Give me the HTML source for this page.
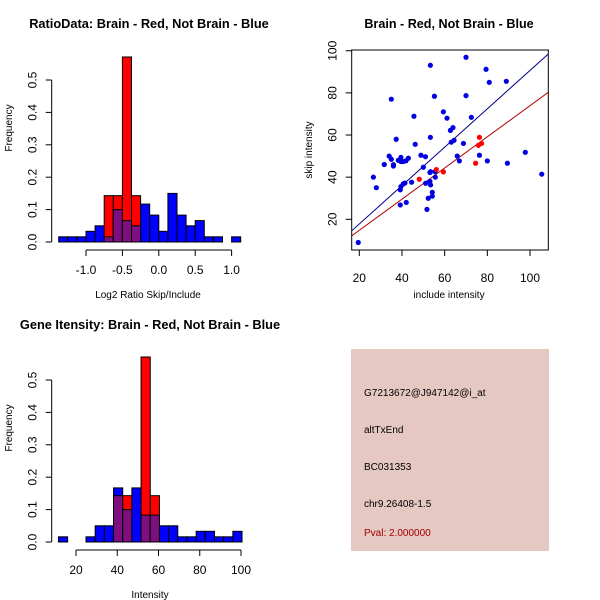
<!DOCTYPE html>
<html><head><meta charset="utf-8"><style>
body{margin:0;background:#fff;}
svg{display:block;font-family:"Liberation Sans",sans-serif;}
</style></head><body>
<svg id="c" width="600" height="600" xmlns="http://www.w3.org/2000/svg">
<rect x="0" y="0" width="600" height="600" fill="#fff"/>
<text x="149" y="28" text-anchor="middle" font-size="12.8" font-weight="bold">RatioData: Brain - Red, Not Brain - Blue</text>
<text x="449" y="28" text-anchor="middle" font-size="12.6" font-weight="bold">Brain - Red, Not Brain - Blue</text>
<text x="150" y="329" text-anchor="middle" font-size="12.8" font-weight="bold">Gene Itensity: Brain - Red, Not Brain - Blue</text>
<text x="148" y="298" text-anchor="middle" font-size="10">Log2 Ratio Skip/Include</text>
<text x="12" y="128" text-anchor="middle" font-size="10" transform="rotate(-90 12 128)">Frequency</text>
<text x="449" y="298" text-anchor="middle" font-size="10">include intensity</text>
<text x="312" y="150" text-anchor="middle" font-size="10" transform="rotate(-90 312 150)">skip intensity</text>
<text x="150" y="598" text-anchor="middle" font-size="10">Intensity</text>
<text x="12" y="428" text-anchor="middle" font-size="10" transform="rotate(-90 12 428)">Frequency</text>
<g>
<rect x="351" y="349" width="198" height="202" fill="#e6c8c2"/>
<text x="364" y="396" font-size="10">G7213672@J947142@i_at</text>
<text x="364" y="433" font-size="10">altTxEnd</text>
<text x="364" y="470" font-size="10">BC031353</text>
<text x="364" y="507" font-size="10">chr9.26408-1.5</text>
<text x="364" y="536" font-size="10" fill="#a00000">Pval: 2.000000</text>
</g>
</svg>
<script>
// ratio histogram data
const ratioStart = -1.375, ratioWidth = 0.125;
const ratioBlue = [0.016,0.016,0.016,0.033,0.05,0.016,0.1,0.066,0.05,0.117,0.083,0.033,0.15,0.083,0.05,0.066,0.016,0.016,0,0.016];
const ratioRed  = [0,0,0,0,0,0.143,0.143,0.571,0.143,0,0,0,0,0,0,0,0,0,0,0];
const ratioXTicks = [-1.0,-0.5,0.0,0.5,1.0];
const ratioXLabels = ["-1.0","-0.5","0.0","0.5","1.0"];
const freqTicks = [0,0.1,0.2,0.3,0.4,0.5];
const freqLabels = ["0.0","0.1","0.2","0.3","0.4","0.5"];
// intensity histogram data
const intStart = 11.5, intWidth = 4.45;
const intBlue = [0.016,0,0,0.016,0.05,0.05,0.167,0.1,0.167,0.083,0.083,0.05,0.05,0.016,0.016,0.033,0.033,0.016,0.016,0.033];
const intRed  = [0,0,0,0,0,0,0.143,0.143,0,0.571,0.143,0,0,0,0,0,0,0,0,0];
const intXTicks = [20,40,60,80,100];
// scatter data
const blueX = [19.5,26.6,28,31.7,34,35,35,36,36,37.3,38.3,39.5,39.5,40.6,41.9,43,39.2,39.5,40.6,41.4,39.2,42,44.5,45.6,46.2,48.9,51,50,51.1,53.3,53.3,53.1,53.4,53.1,53.4,54.2,54.2,52.3,51.7,55.2,55.6,55.5,59.4,61.1,62.7,63.9,63.1,64.4,65.9,66.9,68.8,70,70,72.5,76.3,79.4,80.9,80,88.9,89.4,97.8,105.5];
const blueY = [9,40,35,46,50,77,48.5,45.3,45.9,58,48,49.4,47.4,47.4,47.8,49,34,35.5,36.8,37.2,26.8,28,37.6,68.9,55.6,50.4,49.7,44.7,37.1,93.1,58.9,42.2,42.6,38,36.3,32.8,31,30,24.7,78.4,40,42.6,71,68,62.2,63.5,56.6,57.5,50,47.7,56,96.9,78.7,68.4,50.4,91.2,85,47.7,85.5,46.6,51.8,41.4];
const redX = [48.1,56.1,59.4,74.5,76.3,75.8,77.3];
const redY = [39,43.6,42.5,46.6,58.9,55.1,56];
const blueFit = [-0.44, 0.911]; // intercept, slope
const redFit = [-0.04, 0.74];
const scXTicks = [20,40,60,80,100];
const scYTicks = [20,40,60,80,100];

const svg = document.getElementById('c');
const NS = 'http://www.w3.org/2000/svg';
function mk(tag, attrs, parent){
  const e = document.createElementNS(NS, tag);
  for (const k in attrs) e.setAttribute(k, attrs[k]);
  (parent||svg).appendChild(e);
  return e;
}

function hist(opts){
  const {start,width,blue,red,xTicks,xLabels,x0,xScale,y0,yScale,name} = opts;
  const X = v => x0 + (v - opts.xRef) * xScale;
  const Y = v => y0 - v * yScale;
  const g = mk('g', {});
  
  
  for (let i=0;i<blue.length;i++){
    const a = start + i*width, b = a + width;
    const xa = X(a), xb = X(b);
    const bv = blue[i], rv = red[i];
    if (bv > 0){
      const r = mk('rect', {x:xa, y:Y(bv), width:xb-xa, height:Y(0)-Y(bv), fill:'#0000ff', stroke:'#000', 'stroke-width':1}, g);
      
      
    }
    if (rv > 0){
      const r = mk('rect', {x:xa, y:Y(rv), width:xb-xa, height:Y(0)-Y(rv), fill:'#ff0000', stroke:'#000', 'stroke-width':1}, g);
      
      
      const m = Math.min(bv, rv);
      if (m > 0){
        const p = mk('rect', {x:xa, y:Y(m), width:xb-xa, height:Y(0)-Y(m), fill:'#7f0f80', stroke:'#000', 'stroke-width':1}, g);
        
        
      }
    }
  }
  // x axis
  const xs = X(xTicks[0]), xe = X(xTicks[xTicks.length-1]);
  const ay = Y(0) + 8;
  mk('line', {x1:xs, y1:ay, x2:xe, y2:ay, stroke:'#000'}, g);
  xTicks.forEach((t,i)=>{
    mk('line', {x1:X(t), y1:ay, x2:X(t), y2:ay+6, stroke:'#000'}, g);
    const tx = mk('text', {x:X(t), y:ay+24, 'text-anchor':'middle', 'font-size':12}, g);
    tx.textContent = xLabels[i];
  });
  // y axis
  const axx = opts.yAxisX;
  mk('line', {x1:axx, y1:Y(0), x2:axx, y2:Y(0.5), stroke:'#000'}, g);
  freqTicks.forEach((t,i)=>{
    mk('line', {x1:axx-6, y1:Y(t), x2:axx, y2:Y(t), stroke:'#000'}, g);
    const lx = axx - 15;
    const tx = mk('text', {x:lx, y:Y(t), 'text-anchor':'middle', 'font-size':12, transform:`rotate(-90 ${lx} ${Y(t)})`}, g);
    tx.textContent = freqLabels[i];
  });
}

hist({start:ratioStart,width:ratioWidth,blue:ratioBlue,red:ratioRed,xTicks:ratioXTicks,xLabels:ratioXLabels,
  x0:86, xRef:-1.0, xScale:72.8, y0:242, yScale:324, yAxisX:51.7, name:'ratio-histogram'});
hist({start:intStart,width:intWidth,blue:intBlue,red:intRed,xTicks:intXTicks,xLabels:intXTicks.map(String),
  x0:76, xRef:20, xScale:2.0625, y0:542, yScale:324, yAxisX:51.7, name:'intensity-histogram'});

// scatter
(function(){
  const SX = v => 359.3 + (v-20)*2.134;
  const SY = v => 219.3 - (v-20)*2.107;
  const g = mk('g', {});
  
  
  const L = 351.7, R = 548.3, T = 50, B = 250;
  mk('defs', {}, g).innerHTML = '<clipPath id="clip"><rect x="351.7" y="50" width="196.6" height="200"/></clipPath>';
  const xmin = 20 + (L-359.3)/2.134, xmax = 20 + (R-359.3)/2.134;
  [[blueFit,'#00008b','blue-fit-line'],[redFit,'#b00000','red-fit-line']].forEach(([f,c,n])=>{
    const l = mk('line', {x1:SX(xmin), y1:SY(f[0]+f[1]*xmin), x2:SX(xmax), y2:SY(f[0]+f[1]*xmax), stroke:c, 'clip-path':'url(#clip)'}, g);
    
    
  });
  blueX.forEach((x,i)=>{
    const p = mk('circle', {cx:SX(x), cy:SY(blueY[i]), r:2.6, fill:'#0000e0'}, g);
    
    
  });
  redX.forEach((x,i)=>{
    const p = mk('circle', {cx:SX(x), cy:SY(redY[i]), r:2.6, fill:'#ff0000'}, g);
    
    
  });
  mk('rect', {x:L, y:T, width:R-L, height:B-T, fill:'none', stroke:'#000'}, g);
  scXTicks.forEach(t=>{
    mk('line', {x1:SX(t), y1:B, x2:SX(t), y2:B+6, stroke:'#000'}, g);
    const tx = mk('text', {x:SX(t), y:B+32, 'text-anchor':'middle', 'font-size':12}, g);
    tx.textContent = t;
  });
  scYTicks.forEach(t=>{
    mk('line', {x1:L-6, y1:SY(t), x2:L, y2:SY(t), stroke:'#000'}, g);
    const lx = L - 15;
    const tx = mk('text', {x:lx, y:SY(t), 'text-anchor':'middle', 'font-size':12, transform:`rotate(-90 ${lx} ${SY(t)})`}, g);
    tx.textContent = t;
  });
})();
</script>
</body></html>
